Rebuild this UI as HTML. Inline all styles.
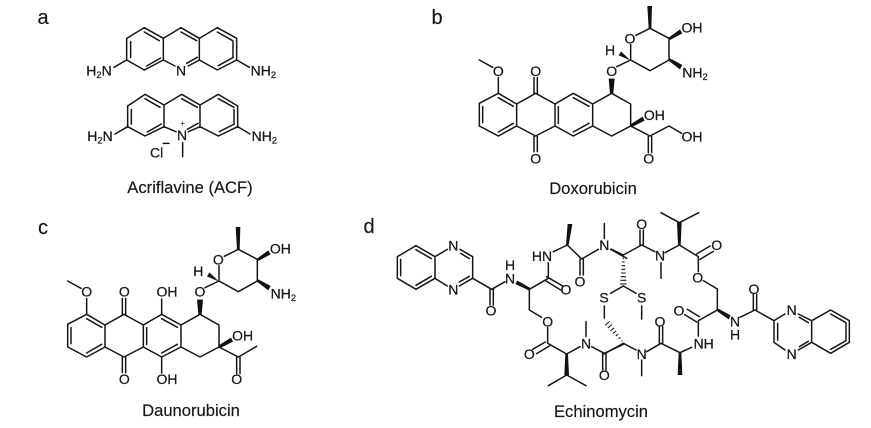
<!DOCTYPE html>
<html><head><meta charset="utf-8"><style>
html,body{margin:0;padding:0;background:#fff;width:871px;height:428px;overflow:hidden}
svg{display:block;filter:blur(.3px)}
.b{fill:none;stroke:#161616;stroke-width:4.5;stroke-linecap:round;stroke-linejoin:round}
.h{fill:none;stroke:#161616;stroke-width:3.2}
.w{fill:#111}
text{font-family:"Liberation Sans",Arial,sans-serif;fill:#161616}
.t{font-size:42px;text-anchor:middle;stroke:#161616;stroke-width:.7}
.s{font-size:28px}
.c{font-size:16.6px;text-anchor:middle;stroke:#161616;stroke-width:.15}
.l{font-size:20px;text-anchor:middle;stroke:#161616;stroke-width:.15}
</style></head><body>
<svg width="871" height="428" viewBox="0 0 871 428" xmlns="http://www.w3.org/2000/svg">
<rect width="871" height="428" fill="#fff"/>
<text class="l" x="43" y="24">a</text>
<text class="l" x="437" y="24">b</text>
<text class="l" x="43" y="234">c</text>
<text class="l" x="369" y="233">d</text>
<text class="c" x="190" y="193">Acriflavine (ACF)</text>
<text class="c" x="593" y="194">Doxorubicin</text>
<text class="c" x="191" y="416">Daunorubicin</text>
<text class="c" x="601" y="417">Echinomycin</text>

<!-- a -->
<g transform="scale(.33333)">
<path class="b" d="M380 115L433 83L490 115L543 83L598 115L652 83L710 115V180L652 210L598 180L565 198M525 198L490 180L433 210L380 180V115M490 115V180M598 115V180M392 125V172M433 96L478 122M440 198L482 174M543 96L590 122M560 190L592 172M652 96L698 122M699 125V172M655 197L700 172M380 180L342 202M710 180L748 202"/>
<text class="t" x="543" y="226">N</text>
<text class="t" x="297" y="226">H<tspan class="s" dy="8">2</tspan><tspan dy="-8">N</tspan></text>
<text class="t" x="790" y="226">NH<tspan class="s" dy="8">2</tspan></text>

<path class="b" d="M383 318L435 283L492 315L545 283L600 315L655 283L713 318V380L655 408L600 380L565 395M528 395L492 380L435 408L383 380V318M492 315V380M600 315V380M394 328V372M435 296L480 322M442 396L484 372M545 296L592 322M562 388L594 370M655 296L702 322M702 328V372M658 395L703 372M383 380L345 402M713 380L750 402M548 428V470"/>
<text class="t" x="546" y="420">N</text>
<text x="548" y="378" font-size="24" text-anchor="middle">+</text>
<text class="t" x="300" y="423">H<tspan class="s" dy="8">2</tspan><tspan dy="-8">N</tspan></text>
<text class="t" x="793" y="423">NH<tspan class="s" dy="8">2</tspan></text>
<text class="t" x="470" y="472">Cl</text>
<path class="b" d="M490 430H507"/>
</g>

<!-- b -->
<g transform="translate(420,0) scale(.33333)">
<path class="b" d="M178 310L235 280L290 312L347 280L405 312L460 280L518 312L575 280L632 312V378L575 408L518 378L460 408L405 378L347 408L290 378L235 408L178 378V310M290 312V378M405 312V378M518 312V378M188 320V368M235 293L280 319M235 396L280 370M415 320V370M460 293L507 319M460 396L507 370M235 280V232M178 180L218 202M342 280V232M352 280V232M342 408V455M352 408V455M590 200L632 180L690 212L747 180V115L690 85L648 106M632 180V134M632 378L690 408L747 378L785 400M685 408V458M695 408V458"/>
<polygon class="w" points="570,280 580,280 584,236 566,236"/>
<polygon class="w" points="632,182 596,166 603,154"/>
<polygon class="w" points="686,85 694,85 696,18 682,18"/>
<polygon class="w" points="747,112 750,120 787,100 780,88"/>
<polygon class="w" points="747,183 750,175 787,195 780,208"/>
<polygon class="w" points="630,374 634,382 674,362 668,350"/>
<text class="t" x="235" y="228">O</text>
<text class="t" x="347" y="228">O</text>
<text class="t" x="347" y="490">O</text>
<text class="t" x="575" y="228">O</text>
<text class="t" x="630" y="130">O</text>
<text class="t" x="570" y="165">H</text>
<text class="t" x="816" y="98">OH</text>
<text class="t" x="825" y="232">NH<tspan class="s" dy="8">2</tspan></text>
<text class="t" x="703" y="360">OH</text>
<text class="t" x="686" y="490">O</text>
<text class="t" x="816" y="425">OH</text>
</g>

<!-- c -->
<g transform="translate(20,210) scale(.33333)">
<g transform="translate(-35,33)">
<path class="b" d="M178 310L235 280L290 312L347 280L405 312L460 280L518 312L575 280L632 312V378L575 408L518 378L460 408L405 378L347 408L290 378L235 408L178 378V310M290 312V378M405 312V378M518 312V378M188 320V368M235 293L280 319M235 396L280 370M415 320V370M460 293L507 319M460 396L507 370M235 280V232M178 180L218 202M342 280V232M352 280V232M342 408V455M352 408V455M460 280V234M460 408V456M590 200L632 180L690 212L747 180V115L690 85L648 106M632 180V134M632 378L690 408L745 376M685 408V458M695 408V458"/>
<polygon class="w" points="570,280 580,280 584,236 566,236"/>
<polygon class="w" points="632,182 596,166 603,154"/>
<polygon class="w" points="686,85 694,85 696,18 682,18"/>
<polygon class="w" points="747,112 750,120 787,100 780,88"/>
<polygon class="w" points="747,183 750,175 787,195 780,208"/>
<polygon class="w" points="630,374 634,382 674,362 668,350"/>
</g>
<text class="t" x="200" y="260">O</text>
<text class="t" x="313" y="260">O</text>
<text class="t" x="313" y="522">O</text>
<text class="t" x="441" y="260">OH</text>
<text class="t" x="441" y="522">OH</text>
<text class="t" x="540" y="260">O</text>
<text class="t" x="595" y="163">O</text>
<text class="t" x="535" y="198">H</text>
<text class="t" x="781" y="131">OH</text>
<text class="t" x="790" y="265">NH<tspan class="s" dy="8">2</tspan></text>
<text class="t" x="668" y="392">OH</text>
<text class="t" x="650" y="522">O</text>
</g>

<!-- d left -->
<g transform="translate(360,210) scale(.33333)">
<path class="b" d="M112 140L168 107L225 140V205L168 238L112 205V140M122 148V197M168 119L214 146M168 226L214 199M225 140L262 118M300 118L338 140V205L298 228M262 228L225 205M302 130L328 146M328 199L298 216M338 205L395 238L435 215M390 238V285M400 238V285M508 238L565 205V158M580 125L622 105L665 147L715 118M560 200L608 228M556 212L602 240M508 238V300L545 322M563 352V400M568 408L530 431M556 396L518 418M563 400L620 432L660 410M620 495L565 527M620 495L678 527M678 335V380M695 410L733 430L790 403M728 430V480M738 430V480M733 40V85M752 118L800 145M660 147V195M670 147V195M752 250L790 228M733 288V324"/>
<polygon class="w" points="508,242 511,234 472,212 466,222"/>
<polygon class="w" points="618,105 626,105 637,42 623,42"/>
<polygon class="w" points="616,432 624,432 627,495 613,495"/>
<text class="t" x="280" y="122">N</text>
<text class="t" x="280" y="253">N</text>
<text class="t" x="393" y="317">O</text>
<text class="t" x="450" y="220">N</text>
<text class="t" x="450" y="180">H</text>
<text class="t" x="546" y="153">HN</text>
<text class="t" x="618" y="253">O</text>
<text class="t" x="660" y="230">O</text>
<text class="t" x="563" y="350">O</text>
<text class="t" x="508" y="447">O</text>
<text class="t" x="678" y="415">N</text>
<text class="t" x="733" y="510">O</text>
<text class="t" x="733" y="120">N</text>
<text class="t" x="732" y="277">S</text>
</g>

<!-- d right -->
<g transform="translate(600,210) scale(.33333)">
<path class="b" d="M35 118L70 135L125 105L165 125M120 105V60M130 105V60M183 158V205M195 128L238 105L295 140M238 38L183 8M238 38L296 8M300 148L340 124M290 132L330 108M295 140V185M310 212L352 237V300L295 332M298 320L262 298M290 336L254 314M295 332V378M275 412L240 428L183 400L140 425M178 400V350M188 400V350M125 450V497M108 420L70 400L12 432M70 228L108 250M125 288V327M420 322L465 300L522 332L555 312M460 300V253M470 300V253M595 312L635 332L692 300L748 332V397L692 430L635 397V332M522 332V397L555 420M595 420L635 397M533 340V390M598 322L625 338M598 410L625 394M692 312L738 338M738 340V390M692 418L738 392"/>
<polygon class="w" points="234,105 242,105 245,38 231,38"/>
<polygon class="w" points="352,304 355,296 392,316 386,328"/>
<polygon class="w" points="236,428 244,428 247,495 233,495"/>
<path class="h" d="M68 145H72M66 156H74M65 167H75M64 178H76M63 189H77M62 200H78M61 211H79M60 222H80"/>
<path class="h" d="M67 392L65 394M61 382L56 386M54.500 372L47.500 378M48.600 362.700L39.400 370.300M42.400 353.500L31.600 362.500M35.700 343.900L23.300 354.100M29 334.200L15 345.800"/>
<text class="t" x="125" y="57">O</text>
<text class="t" x="180" y="152">N</text>
<text class="t" x="350" y="120">O</text>
<text class="t" x="293" y="218">O</text>
<text class="t" x="237" y="317">O</text>
<text class="t" x="311" y="415">NH</text>
<text class="t" x="405" y="350">N</text>
<text class="t" x="405" y="388">H</text>
<text class="t" x="462" y="252">O</text>
<text class="t" x="575" y="315">N</text>
<text class="t" x="575" y="447">N</text>
<text class="t" x="180" y="350">O</text>
<text class="t" x="125" y="447">N</text>
<text class="t" x="125" y="277">S</text>
</g>
</svg>
</body></html>
